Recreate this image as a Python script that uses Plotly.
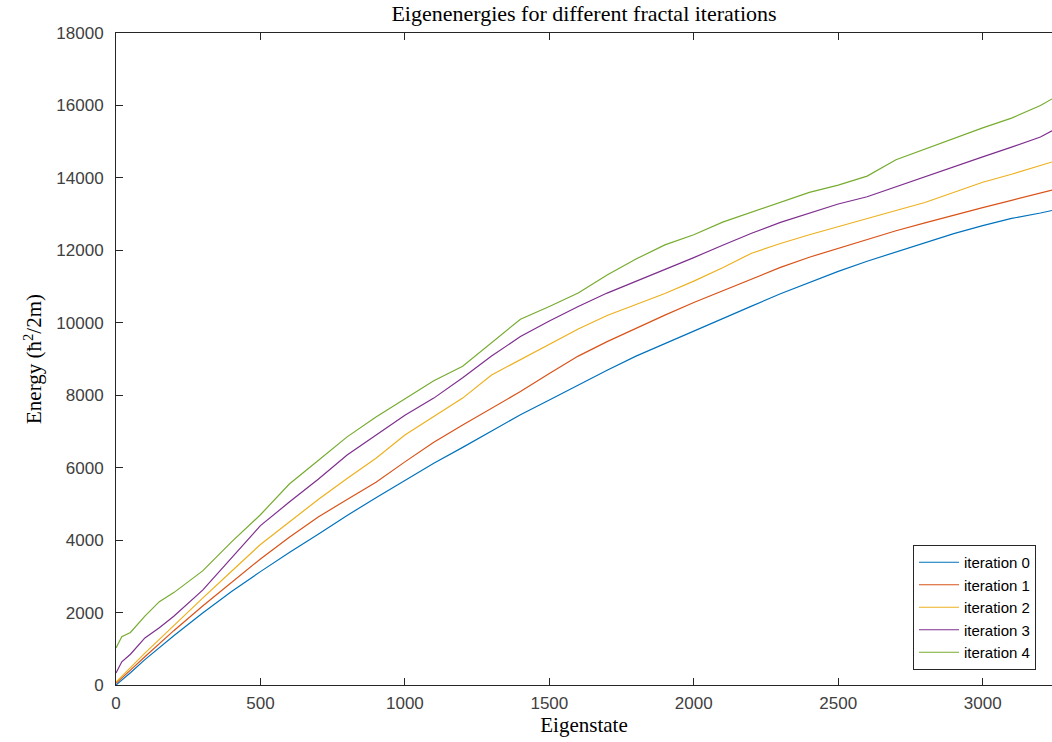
import plotly.graph_objects as go

# Eigenstate index (sampled)
eigenstate = [0, 20, 50, 100, 150, 200, 300, 400, 500, 600, 700, 800, 900, 1000,
              1100, 1200, 1300, 1400, 1500, 1600, 1700, 1800, 1900, 2000, 2100,
              2200, 2300, 2400, 2500, 2600, 2700, 2800, 2900, 3000, 3100, 3200, 3240]

# Eigenenergies per fractal iteration
iteration_0 = [0, 130, 340, 700, 1030, 1360, 1990, 2580, 3130, 3660, 4160, 4680, 5170,
               5650, 6120, 6560, 7020, 7460, 7870, 8290, 8690, 9080, 9430, 9770, 10110,
               10460, 10800, 11110, 11420, 11700, 11960, 12220, 12460, 12680, 12880,
               13030, 13100]
iteration_1 = [50, 190, 410, 780, 1140, 1500, 2180, 2840, 3480, 4080, 4640, 5120, 5600,
               6160, 6700, 7180, 7650, 8100, 8600, 9080, 9480, 9850, 10210, 10560, 10890,
               11210, 11530, 11810, 12060, 12300, 12540, 12760, 12980, 13180, 13380,
               13580, 13660]
iteration_2 = [80, 250, 480, 880, 1260, 1650, 2400, 3140, 3880, 4500, 5120, 5700, 6260,
               6900, 7420, 7920, 8560, 8980, 9420, 9830, 10200, 10500, 10810, 11150, 11520,
               11920, 12190, 12430, 12660, 12880, 13100, 13320, 13600, 13880, 14100,
               14330, 14440]
iteration_3 = [330, 640, 850, 1300, 1580, 1900, 2620, 3500, 4400, 5050, 5680, 6350, 6900,
               7450, 7920, 8480, 9080, 9620, 10050, 10450, 10820, 11140, 11460, 11800,
               12140, 12470, 12770, 13020, 13280, 13480, 13760, 14020, 14300, 14580,
               14850, 15130, 15300]
iteration_4 = [1020, 1330, 1450, 1900, 2300, 2550, 3150, 3950, 4700, 5550, 6200, 6850,
               7400, 7900, 8400, 8800, 9450, 10100, 10450, 10820, 11320, 11760, 12150,
               12430, 12780, 13050, 13330, 13600, 13800, 14050, 14500, 14800, 15100,
               15380, 15650, 16000, 16180]

series = [
    ("iteration 0", iteration_0, "#0072BD"),
    ("iteration 1", iteration_1, "#D95319"),
    ("iteration 2", iteration_2, "#EDB120"),
    ("iteration 3", iteration_3, "#7E2F8E"),
    ("iteration 4", iteration_4, "#77AC30"),
]

fig = go.Figure()
for name, values, color in series:
    fig.add_trace(go.Scatter(x=eigenstate, y=values, mode="lines", name=name,
                             line=dict(color=color, width=1.2)))

axis_color = "#262626"
label_color = "#404040"
sans = "Liberation Sans, Arial, sans-serif"
serif = "Liberation Serif, DejaVu Serif, serif"
tick_font = dict(family=sans, size=17, color=label_color)

fig.update_layout(
    width=1052, height=742,
    margin=dict(l=116, r=0, t=33, b=57),
    paper_bgcolor="white", plot_bgcolor="white",
    title=dict(text="Eigenenergies for different fractal iterations",
               font=dict(family=serif, size=22, color="#000000"),
               x=(116 + 1052) / 2 / 1052, xanchor="center", y=1 - 13 / 742, yanchor="middle"),
    xaxis=dict(range=[0, 3240], dtick=500, tick0=0, showgrid=False, zeroline=False,
               showline=True, linecolor=axis_color, linewidth=1, mirror="ticks",
               ticks="inside", ticklen=7, tickcolor=axis_color, tickfont=tick_font,
               ticklabelstandoff=3,
               title=dict(text="Eigenstate", font=dict(family=serif, size=21, color="#000000"),
                          standoff=3)),
    yaxis=dict(range=[0, 18000], dtick=2000, tick0=0, tickformat="d", showgrid=False,
               zeroline=False, showline=True, linecolor=axis_color, linewidth=1, mirror=False,
               ticks="inside", ticklen=7, tickcolor=axis_color, tickfont=tick_font,
               ticklabelstandoff=8,
               title=dict(text="Energy (ħ<sup>2</sup>/2m)",
                          font=dict(family=serif, size=21, color="#000000"), standoff=8)),
    legend=dict(x=(1036 - 116) / 936, y=(685 - 670) / 652, xanchor="right", yanchor="bottom",
                bgcolor="white", bordercolor=axis_color, borderwidth=1,
                font=dict(family=sans, size=15, color="#000000"),
                tracegroupgap=0, itemwidth=40),
    showlegend=True,
)

fig.write_html("out.html")
